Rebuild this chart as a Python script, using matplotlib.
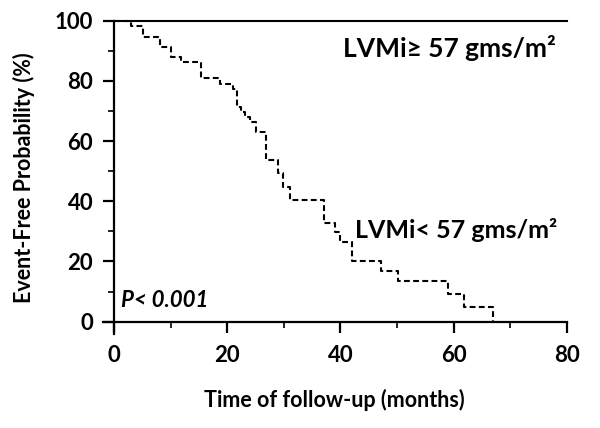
import matplotlib
matplotlib.use("Agg")
import matplotlib.pyplot as plt
from matplotlib.ticker import MultipleLocator

# Kaplan-Meier curve, LVMi < 57 gms/m2
low_time = [0, 3, 5.2, 8.1, 10.0, 11.9, 15.3, 18.8, 21.0, 21.8, 22.5, 23.2, 24.1, 25.1,
            26.9, 29.0, 29.9, 31.1, 37.1, 39.0, 40.0, 42.1, 47.1, 50.1, 59.0, 61.9, 66.9]
low_surv = [100, 98.2, 94.7, 91.2, 87.8, 86.2, 81.1, 79.0, 77.2, 71.4, 69.6, 68.0, 66.4, 63.0,
            53.7, 49.3, 44.8, 40.4, 32.7, 29.8, 26.6, 20.2, 16.9, 13.6, 9.2, 4.8, 0]

# LVMi >= 57 gms/m2: no events
high_time = [0, 80]
high_surv = [100, 100]

xticks = [0, 20, 40, 60, 80]
yticks = [0, 20, 40, 60, 80, 100]

plt.rcParams['font.family'] = ['Lato', 'DejaVu Sans']

fig = plt.figure(figsize=(6, 4.28), dpi=100)
ax = fig.add_axes([0.171, 0.2203, 0.774, 0.7313])

ax.step(low_time, low_surv, where='post', color='black', lw=1.5,
        linestyle=(0, (2.8, 1.6)), clip_on=False)
ax.plot(high_time, high_surv, color='black', lw=1.5, clip_on=False)

ax.set_xlim(-2, 80)
ax.set_ylim(-4, 100)
ax.spines['left'].set_position(('data', 0))
ax.spines['bottom'].set_position(('data', 0))
ax.spines['top'].set_visible(False)
ax.spines['right'].set_visible(False)
for s in ['left', 'bottom']:
    ax.spines[s].set_linewidth(1.6)

ax.set_xticks(xticks)
ax.set_yticks(yticks)
ax.xaxis.set_minor_locator(MultipleLocator(10))
ax.yaxis.set_minor_locator(MultipleLocator(10))
ax.tick_params(which='major', length=8, width=1.6, labelsize=16, pad=7)
ax.tick_params(axis='x', which='major', pad=9)
ax.tick_params(which='minor', length=4, width=1.2)
for lab in ax.get_xticklabels() + ax.get_yticklabels():
    lab.set_fontweight('bold')

ax.set_xlabel('Time of follow-up (months)', fontsize=15.5, fontweight='bold', labelpad=16)
ax.set_ylabel('Event-Free Probability (%)', fontsize=15.5, fontweight='bold', labelpad=14)

ax.text(40.5, 91, 'LVMi\u2265 57 gms/m\u00b2', fontsize=19, fontweight='bold', va='center')
ax.text(42.5, 30.5, 'LVMi< 57 gms/m\u00b2', fontsize=18, fontweight='bold', va='center')
ax.text(1.3, 7, 'P< 0.001', fontsize=16, fontweight='bold', style='italic', va='center')

fig.savefig('out.png', dpi=100)
